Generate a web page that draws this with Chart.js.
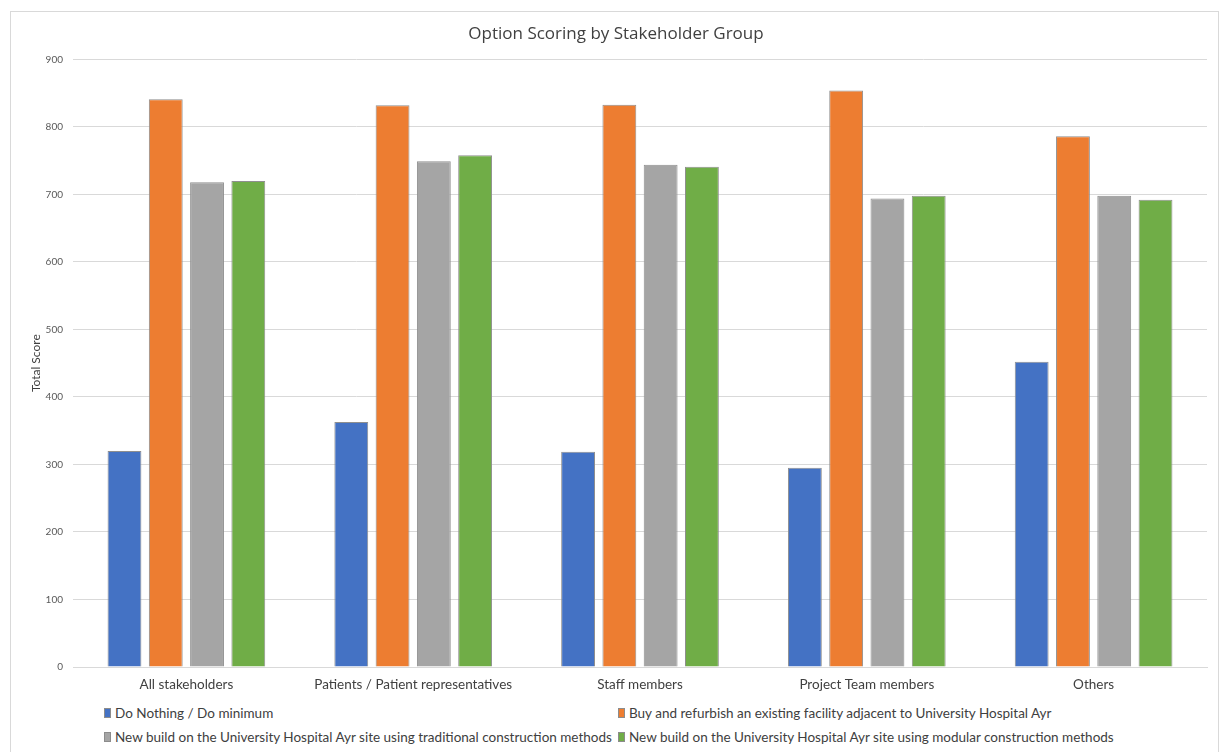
<!DOCTYPE html>
<html>
<head>
<meta charset="utf-8">
<script src="https://cdn.jsdelivr.net/npm/chart.js@4"></script>
<style>
  html, body { margin: 0; padding: 0; background: #fff; }
  #frame {
    position: absolute; left: 10px; top: 11px; width: 1209px; height: 760px;
    border: 1px solid #d9d9d9; box-sizing: border-box;
  }
  #wrap { position: absolute; left: 0; top: 0; width: 1208px; height: 689px; }
  #legend { position: absolute; left: 0; top: 0; font-family: Lato, sans-serif; font-size: 13.5px; color: #404040; }
  .item { position: absolute; white-space: nowrap; display: flex; align-items: center; }
  .box { width: 7px; height: 10px; border: 1px solid #8c8c8c; margin-right: 4px; box-sizing: border-box; }
</style>
</head>
<body>
<div id="frame">
  <div id="wrap"><canvas id="chart"></canvas></div>
</div>
<div id="legend"></div>
<script>
const categories = ['All stakeholders', 'Patients / Patient representatives', 'Staff members', 'Project Team members', 'Others'];
const seriesNames = [
  'Do Nothing / Do minimum',
  'Buy and refurbish an existing facility adjacent to University Hospital Ayr',
  'New build on the University Hospital Ayr site using traditional construction methods',
  'New build on the University Hospital Ayr site using modular construction methods'
];
const doNothing = [320, 363, 319, 295, 452];
const buyRefurbish = [841, 832, 833, 854, 786];
const newTraditional = [718, 749, 744, 694, 698];
const newModular = [720, 758, 741, 698, 692];
const colors = ['#4472C4', '#ED7D31', '#A5A5A5', '#70AD47'];
const yTicks = [0, 100, 200, 300, 400, 500, 600, 700, 800, 900];

const seriesValues = [doNothing, buyRefurbish, newTraditional, newModular];

const chart = new Chart(document.getElementById('chart'), {
  type: 'bar',
  data: {
    labels: categories,
    datasets: seriesValues.map((vals, i) => ({
      label: seriesNames[i],
      data: vals,
      backgroundColor: colors[i],
      borderColor: '#8f8f8f',
      borderWidth: 1,
      categoryPercentage: 0.728,
      barPercentage: 0.82
    }))
  },
  options: {
    responsive: true,
    maintainAspectRatio: false,
    animation: false,
    layout: { padding: { left: 14, right: 12, top: 0, bottom: 0 } },
    plugins: {
      legend: { display: false },
      tooltip: { enabled: false },
      title: {
        display: true,
        text: 'Option Scoring by Stakeholder Group',
        color: '#404040',
        font: { family: 'Open Sans', size: 17, weight: 'normal' },
        padding: { top: 12, bottom: 15 }
      }
    },
    scales: {
      x: {
        grid: { display: false, drawTicks: false },
        border: { color: '#d9d9d9' },
        ticks: { color: '#404040', font: { family: 'Lato', size: 13.5 }, padding: 10, maxRotation: 0 },
        afterFit: (s) => { s.height = 34; }
      },
      y: {
        min: 0,
        max: 900,
        afterBuildTicks: (s) => { s.ticks = yTicks.map(v => ({ value: v })); },
        grid: { color: '#d9d9d9', drawTicks: false },
        border: { display: false },
        ticks: { color: '#595959', font: { family: 'Lato', size: 10 }, padding: 10 },
        title: { display: true, text: 'Total Score', color: '#404040', font: { family: 'Lato', size: 12 } },
        afterFit: (s) => { s.width = 48; }
      }
    }
  }
});

// legend in two columns, built from dataset labels and colours
const legend = document.getElementById('legend');
const spots = [[104, 714], [618, 714], [104, 738], [618, 738]];
chart.data.datasets.forEach((ds, i) => {
  const el = document.createElement('div');
  el.className = 'item';
  el.style.left = spots[i][0] + 'px';
  el.style.top = (spots[i][1] - 9) + 'px';
  el.innerHTML = '<span class="box" style="background:' + ds.backgroundColor + '"></span>' + ds.label;
  legend.appendChild(el);
});
</script>
</body>
</html>
